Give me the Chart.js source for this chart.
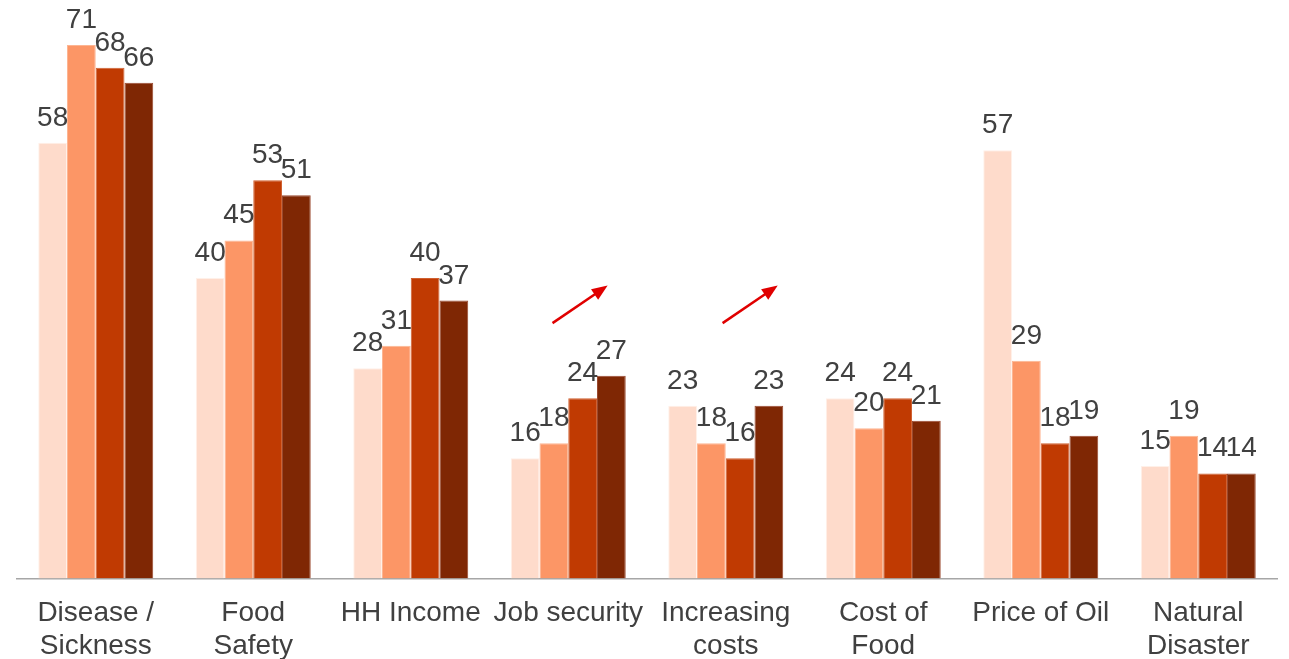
<!DOCTYPE html>
<html lang="en">
<head>
    <meta charset="UTF-8">
    <title>Concerns</title>
    <script src="https://cdn.jsdelivr.net/npm/chart.js"></script>
    <style>
        body { margin: 0; background: #fff; }
        #wrap { width: 1289px; height: 659px; position: relative; }
    </style>
</head>
<body>
    <div id="wrap"><canvas id="concernChart"></canvas></div>

    <script>
// categories and values
const categories = [
    ['Disease /', 'Sickness'], ['Food', 'Safety'], 'HH Income', 'Job security',
    ['Increasing', 'costs'], ['Cost of', 'Food'], 'Price of Oil', ['Natural', 'Disaster']
];
const series1 = [58, 40, 28, 16, 23, 24, 57, 15];
const series2 = [71, 45, 31, 18, 18, 20, 29, 19];
const series3 = [68, 53, 40, 24, 16, 24, 18, 14];
const series4 = [66, 51, 37, 27, 23, 21, 19, 14];
// red arrows: [from category pos, from value, to category pos, to value]
const arrows = [[2.9, 34, 3.25, 39], [3.98, 34, 4.33, 39]];

const colors = ['#FEDBCB', '#FC9666', '#C03A02', '#7F2704'];
const edges = ['#FFF0E8', '#FDB592', '#D06030', '#9A4A30'];

// draws the value on top of each bar
const valueLabels = {
    id: 'valueLabels',
    afterDatasetsDraw(chart) {
        const ctx = chart.ctx;
        ctx.save();
        ctx.font = '28px "Liberation Sans", Arial, sans-serif';
        ctx.fillStyle = '#404040';
        ctx.textAlign = 'center';
        ctx.textBaseline = 'alphabetic';
        chart.data.datasets.forEach((ds, i) => {
            chart.getDatasetMeta(i).data.forEach((bar, j) => {
                ctx.fillText(ds.data[j], bar.x, bar.y - 17);
            });
        });
        ctx.restore();
    }
};

// red trend arrows
const trendArrows = {
    id: 'trendArrows',
    afterDatasetsDraw(chart) {
        const ctx = chart.ctx;
        const x = chart.scales.x, y = chart.scales.y;
        ctx.save();
        ctx.strokeStyle = '#E00000';
        ctx.fillStyle = '#E00000';
        ctx.lineWidth = 2.5;
        arrows.forEach(a => {
            const x0 = x.getPixelForValue(a[0]), x1 = x.getPixelForValue(a[2]);
            const y0 = y.getPixelForValue(a[1]), y1 = y.getPixelForValue(a[3]);
            const ang = Math.atan2(y1 - y0, x1 - x0);
            const hl = 17;
            ctx.beginPath();
            ctx.moveTo(x0, y0);
            ctx.lineTo(x1 - hl * 0.8 * Math.cos(ang), y1 - hl * 0.8 * Math.sin(ang));
            ctx.stroke();
            ctx.beginPath();
            ctx.moveTo(x1, y1);
            ctx.lineTo(x1 - hl * Math.cos(ang - 0.38), y1 - hl * Math.sin(ang - 0.38));
            ctx.lineTo(x1 - hl * Math.cos(ang + 0.38), y1 - hl * Math.sin(ang + 0.38));
            ctx.closePath();
            ctx.fill();
        });
        ctx.restore();
    }
};

const ctx = document.getElementById('concernChart').getContext('2d');
const concernChart = new Chart(ctx, {
    type: 'bar',
    data: {
        labels: categories,
        datasets: [series1, series2, series3, series4].map((d, i) => ({
            label: 'Series ' + (i + 1),
            data: d,
            backgroundColor: colors[i],
            borderColor: edges[i],
            borderWidth: 1,
            categoryPercentage: 0.73,
            barPercentage: 1
        }))
    },
    options: {
        responsive: true,
        maintainAspectRatio: false,
        animation: false,
        layout: { padding: { left: 17, right: 12, top: 0, bottom: -22 } },
        plugins: {
            legend: { display: false },
            tooltip: { enabled: false }
        },
        scales: {
            x: {
                grid: { display: false, drawTicks: false },
                border: { display: true, color: '#A6A6A6', width: 1.5 },
                ticks: {
                    color: '#404040',
                    padding: 19,
                    maxRotation: 0,
                    autoSkip: false,
                    font: { family: '"Liberation Sans", Arial, sans-serif', size: 28, lineHeight: 1.15 }
                }
            },
            y: {
                display: false,
                min: 0,
                max: 77
            }
        }
    },
    plugins: [valueLabels, trendArrows]
});
    </script>
</body>
</html>
